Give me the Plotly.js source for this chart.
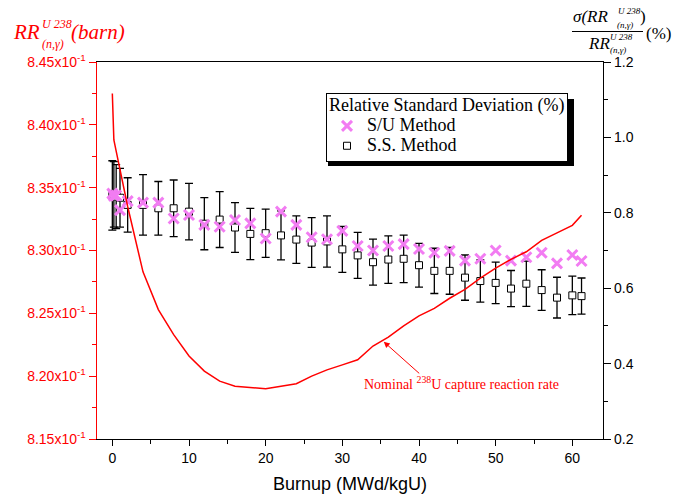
<!DOCTYPE html>
<html>
<head>
<meta charset="utf-8">
<script src="https://cdn.plot.ly/plotly-3.0.1.min.js"></script>
<style>html,body{margin:0;padding:0;background:#fff;}#chart{width:688px;height:497px;}</style>
</head>
<body>
<div id="chart"></div>
<script>
const burnup = [0, 0.2, 0.5, 1, 2, 4, 6, 8, 10, 12, 14, 16, 18, 20, 22, 24, 26, 28, 30, 32, 34, 36, 38, 40, 42, 44, 46, 48, 50, 52, 54, 56, 58, 60, 61.2];
const rrNominal = [0.8425, 0.8388, 0.8379, 0.8364, 0.8335, 0.8283, 0.8253, 0.8233, 0.8216, 0.8204, 0.8196, 0.8192, 0.8191, 0.8190, 0.8192, 0.8194, 0.8200, 0.8205, 0.8209, 0.8213, 0.8224, 0.8231, 0.8240, 0.8248, 0.8254, 0.8262, 0.8269, 0.8278, 0.8286, 0.8293, 0.8299, 0.8308, 0.8314, 0.8320, 0.8328];
const suMethod = [0.851, 0.845, 0.846, 0.807, 0.831, 0.827, 0.827, 0.785, 0.794, 0.768, 0.763, 0.781, 0.772, 0.732, 0.803, 0.768, 0.735, 0.730, 0.752, 0.712, 0.700, 0.712, 0.717, 0.704, 0.694, 0.699, 0.673, 0.678, 0.700, 0.673, 0.682, 0.694, 0.666, 0.688, 0.672];
const ssMethod = [0.846, 0.849, 0.843, 0.840, 0.821, 0.821, 0.812, 0.812, 0.803, 0.771, 0.782, 0.761, 0.744, 0.746, 0.740, 0.729, 0.721, 0.724, 0.703, 0.687, 0.669, 0.676, 0.678, 0.661, 0.646, 0.646, 0.628, 0.619, 0.614, 0.599, 0.612, 0.595, 0.575, 0.581, 0.579];
const ssError = [0.092, 0.087, 0.085, 0.078, 0.072, 0.080, 0.071, 0.075, 0.075, 0.069, 0.074, 0.066, 0.068, 0.064, 0.065, 0.063, 0.066, 0.068, 0.061, 0.061, 0.061, 0.063, 0.063, 0.058, 0.060, 0.062, 0.060, 0.056, 0.055, 0.048, 0.060, 0.054, 0.054, 0.051, 0.048];
const leftTickVals = [0.815, 0.820, 0.825, 0.830, 0.835, 0.840, 0.845];
const leftTickText = ['8.15x10<sup>-1</sup>', '8.20x10<sup>-1</sup>', '8.25x10<sup>-1</sup>', '8.30x10<sup>-1</sup>', '8.35x10<sup>-1</sup>', '8.40x10<sup>-1</sup>', '8.45x10<sup>-1</sup>'];

const W = 688, H = 497, L = 97, R = 85, T = 62, B = 58;
const pw = W - L - R, ph = H - T - B;
const px = v => (v - L) / pw;
const py = v => (H - B - v) / ph;

const serif = 'Liberation Serif, Times New Roman, serif';
const sans = 'Liberation Sans, Arial, sans-serif';
const violet = '#F27CF2';
const big = s => '<span style="font-size:18px">' + s + '</span>';

const traces = [
  {
    x: burnup, y: ssMethod, yaxis: 'y', type: 'scatter', mode: 'markers', name: big('S.S. Method'),
    error_y: {type: 'data', array: ssError, visible: true, color: '#000', thickness: 1.3, width: 4},
    marker: {symbol: 'square', size: 7, color: '#fff', line: {color: '#000', width: 1}}
  },
  {
    x: burnup, y: suMethod, yaxis: 'y', type: 'scatter', mode: 'markers', name: big('S/U Method'),
    marker: {symbol: 'x-thin', size: 10, color: violet, line: {color: violet, width: 3}}
  },
  {
    x: burnup, y: rrNominal, yaxis: 'y2', type: 'scatter', mode: 'lines', name: 'Nominal',
    line: {color: '#FF0000', width: 1.5}, showlegend: false
  }
];

function ann(text, x, y, size, color, italic) {
  return {xref: 'paper', yref: 'paper', x: px(x), y: py(y), xanchor: 'left', yanchor: 'middle',
    showarrow: false, text: italic ? '<i>' + text + '</i>' : text,
    font: {family: serif, size: size, color: color}, borderpad: 0};
}

const annotations = [
  ann('RR', 12, 32, 21, '#FF0000', true),
  ann('U 238', 41, 24, 12, '#FF0000', true),
  ann('(n,γ)', 41, 44, 12, '#FF0000', true),
  ann('(barn)', 70, 32, 21, '#FF0000', true),
  ann('σ(RR', 572, 17, 17, '#000', true),
  ann('U 238', 617, 11, 9, '#000', true),
  ann('(n,γ)', 616, 25, 9, '#000', true),
  ann(')', 639, 17, 17, '#000', false),
  ann('RR', 587, 43, 17, '#000', true),
  ann('U 238', 609, 37, 9, '#000', true),
  ann('(n,γ)', 609, 50, 9, '#000', true),
  ann('(%)', 645, 33, 17, '#000', false),
  {xref: 'x', yref: 'y2', x: 35.4, y: 0.82274, ax: 37, ay: 33,
   text: '', showarrow: true, arrowhead: 2, arrowsize: 1.2, arrowwidth: 1, arrowcolor: '#FF0000', standoff: 0},
  {xref: 'paper', yref: 'paper', x: px(461), y: py(383), xanchor: 'center', yanchor: 'middle', showarrow: false,
   text: 'Nominal <sup>238</sup>U capture reaction rate', font: {family: serif, size: 14, color: '#FF0000'}}
];

const shapes = [
  {type: 'line', xref: 'paper', yref: 'paper', x0: px(572), x1: px(643), y0: py(31.5), y1: py(31.5), line: {color: '#000', width: 1}},
  {type: 'rect', xref: 'paper', yref: 'paper', x0: px(328), x1: px(574), y0: py(166), y1: py(99), fillcolor: '#000', line: {width: 0}, layer: 'above'}
];

const layout = {
  width: W, height: H,
  margin: {l: L, r: R, t: T, b: B, pad: 0},
  paper_bgcolor: '#fff', plot_bgcolor: '#fff',
  showlegend: true,
  legend: {
    x: px(326), y: py(93), xanchor: 'left', yanchor: 'top',
    bgcolor: '#fff', bordercolor: '#000', borderwidth: 1,
    font: {family: serif, size: 13, color: '#000'},
    title: {text: big('Relative Standard Deviation (%)'), font: {family: serif, size: 13, color: '#000'}},
    traceorder: 'reversed', tracegroupgap: 0
  },
  xaxis: {
    range: [-2, 64], dtick: 10, tick0: 0, ticks: 'outside', ticklen: 6, tickwidth: 1, tickcolor: '#000',
    minor: {dtick: 5, ticks: 'outside', ticklen: 4, tickcolor: '#000'},
    showline: true, linecolor: '#000', linewidth: 1.2, mirror: true,
    showgrid: false, zeroline: false,
    tickfont: {family: sans, size: 14, color: '#000'},
    title: {text: 'Burnup (MWd/kgU)', font: {family: sans, size: 18, color: '#000'}, standoff: 12}
  },
  yaxis: {
    side: 'right', range: [0.2, 1.2], dtick: 0.2, tick0: 0.2, tickformat: '.1f',
    ticks: 'outside', ticklen: 7, tickwidth: 1, tickcolor: '#000',
    minor: {dtick: 0.1, ticks: 'outside', ticklen: 4, tickcolor: '#000'},
    showline: true, linecolor: '#000', linewidth: 1.2,
    showgrid: false, zeroline: false,
    tickfont: {family: sans, size: 14, color: '#000'}
  },
  yaxis2: {
    overlaying: 'y', side: 'left', range: [0.815, 0.845],
    tickmode: 'array', tickvals: leftTickVals, ticktext: leftTickText,
    ticks: 'outside', ticklen: 7, tickwidth: 1, tickcolor: '#FF0000',
    minor: {tickmode: 'linear', tick0: 0.8125, dtick: 0.005, ticks: 'outside', ticklen: 4, tickcolor: '#FF0000'},
    showline: true, linecolor: '#FF0000', linewidth: 1.5,
    showgrid: false, zeroline: false,
    tickfont: {family: sans, size: 14, color: '#FF0000'}
  },
  annotations: annotations,
  shapes: shapes
};

Plotly.newPlot('chart', traces, layout, {displayModeBar: false, staticPlot: true});
</script>
</body>
</html>
